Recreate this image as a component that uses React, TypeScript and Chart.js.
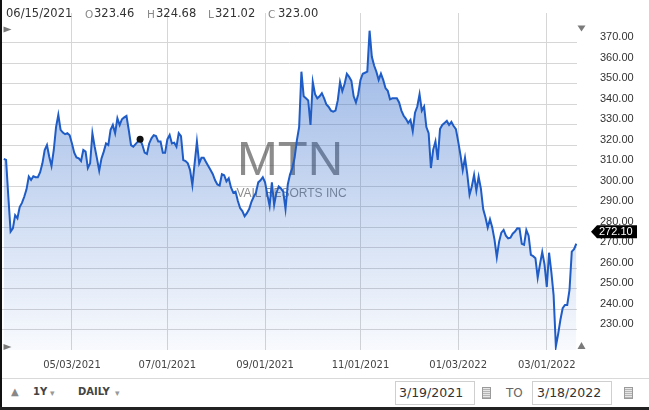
import React, { useEffect, useRef } from 'react';
import { Chart, registerables } from 'chart.js';

Chart.register(...registerables);

// Daily closes, trading days 3/19/2021 .. 3/18/2022 (index = trading day number)
const closes: number[] = [
  313.5, 313, 295, 278, 279.6, 286, 284.5, 290, 292, 295,
  298.6, 304.8, 303.2, 305, 304.5, 304.5, 307, 311.3, 317.8, 320.2,
  314.5, 310, 317.8, 329, 335, 327.6, 326.3, 325.5, 326, 325,
  321, 316.5, 314.2, 313.7, 312.4, 317.8, 317, 309, 311.3, 326,
  319.4, 313.7, 307.7, 313.7, 317, 321, 320.2, 327.6, 330, 326,
  333.3, 330, 332.8, 333.7, 334.4, 327.6, 320.2, 319.4, 320.7, 321.9,
  323.0, 320.2, 316.5, 315.9, 321, 323.5, 325, 324.6, 321.9, 321.9,
  316.5, 316.5, 323, 325.1, 321, 321.4, 319.4, 326, 324.6, 312.9,
  312.4, 311.3, 308, 300.7, 311.3, 321.9, 311.3, 314, 314, 312,
  310, 308, 306, 303, 301, 300.5, 306, 305.5, 302.5, 304,
  299.5, 297, 297.5, 293, 289.5, 288, 285.5, 287, 289, 292.5,
  295, 297, 302, 303, 304.5, 302, 296, 290.5, 302, 291,
  297, 300, 299, 297.5, 289, 301, 306, 309, 314, 322.5,
  329, 356, 344, 343, 342, 330, 351, 345, 343, 344,
  345.5, 343, 340, 338.8, 337, 336.5, 337, 342, 351, 346.5,
  350, 355, 353.5, 351.5, 344, 341, 345, 352, 355, 355.5,
  356, 376, 363.3, 359, 356, 352, 355, 352, 348, 346.7,
  342.5, 343, 343, 343, 341, 337, 334.5, 333, 331, 332.5,
  327, 336, 339, 345, 337, 339, 329, 326, 309, 318,
  322, 313, 328, 330, 331, 332, 330, 331.5, 329.5, 328,
  322, 315.4, 308, 314, 306, 296, 300, 305.6, 298, 304.8,
  299, 289, 285, 280, 284, 280, 274, 265.5, 273, 277.5,
  278.8, 276, 274.7, 275, 277, 278, 279.6, 279.5, 272, 271.5,
  278.8, 276, 266.6, 266, 265, 255.5, 262, 268, 262, 251,
  267.7, 258.4, 247, 222, 228, 235, 240.6, 242.2, 242.2, 249.5,
  268.2, 269.4, 272.1,
];

const xTickIndex: number[] = [30, 72, 115, 157, 200, 239];
const xTickLabels: string[] = ['05/03/2021', '07/01/2021', '09/01/2021', '11/01/2021', '01/03/2022', '03/01/2022'];
const yTicks: number[] = [230, 240, 250, 260, 270, 280, 290, 300, 310, 320, 330, 340, 350, 360, 370];

const markedIndex = 60;
const headerDate = '06/15/2021';
const ohlcKeys: string[] = ['O', 'H', 'L', 'C'];
const ohlcValues: string[] = ['323.46', '324.68', '321.02', '323.00'];
const ticker = 'MTN';
const companyName = 'VAIL RESORTS INC';
const rangeFrom = '3/19/2021';
const rangeTo = '3/18/2022';
const periodLabel = '1Y';
const intervalLabel = 'DAILY';

const headerKeyX = [85, 147, 208, 268];
const headerValX = [94, 156, 215, 278];

const FONT_V = '"DejaVu Sans", Verdana, sans-serif';
const FONT_A = '"Liberation Sans", Arial, sans-serif';

const decorPlugin = {
  id: 'decor',
  beforeDatasetsDraw(chart: any) {
    const ctx = chart.ctx;
    ctx.save();
    ctx.textAlign = 'center';
    ctx.textBaseline = 'alphabetic';
    ctx.fillStyle = 'rgba(70,70,70,0.62)';
    ctx.font = `49px ${FONT_A}`;
    ctx.fillText(ticker, 288, 175);
    ctx.fillStyle = 'rgba(60,60,60,0.6)';
    ctx.font = `12px ${FONT_A}`;
    ctx.fillText(companyName, 289.5, 197);
    ctx.restore();
  },
  afterDraw(chart: any) {
    const ctx = chart.ctx;
    const area = chart.chartArea;
    ctx.save();
    ctx.fillStyle = '#7a7a7a';
    const tri = (pts: number[][]) => {
      ctx.beginPath();
      ctx.moveTo(pts[0][0], pts[0][1]);
      ctx.lineTo(pts[1][0], pts[1][1]);
      ctx.lineTo(pts[2][0], pts[2][1]);
      ctx.closePath();
      ctx.fill();
    };
    // left scroll markers
    tri([[area.left + 1.5, 26.5], [area.left + 1.5, 32.5], [area.left + 9.5, 29.5]]);
    tri([[area.left + 1.5, area.bottom - 6], [area.left + 1.5, area.bottom], [area.left + 9.5, area.bottom - 3]]);
    // right markers
    const cx = area.right + 4.5;
    tri([[cx - 4, 25.5], [cx + 4, 25.5], [cx, 31.5]]);
    tri([[cx - 4, area.bottom - 1], [cx + 4, area.bottom - 1], [cx, area.bottom - 8]]);

    // last price tag
    const last = closes[closes.length - 1];
    const ys = chart.scales.y;
    const ty = ys.getPixelForValue(last) - 12;
    const bx = area.right + 20;
    const bw = 40;
    const bh = 13;
    ctx.fillStyle = '#000';
    ctx.beginPath();
    ctx.moveTo(area.right + 14, ty);
    ctx.lineTo(bx, ty - bh / 2);
    ctx.lineTo(bx + bw, ty - bh / 2);
    ctx.lineTo(bx + bw, ty + bh / 2);
    ctx.lineTo(bx, ty + bh / 2);
    ctx.closePath();
    ctx.fill();
    ctx.fillStyle = '#fff';
    ctx.font = `11px ${FONT_A}`;
    ctx.textAlign = 'left';
    ctx.textBaseline = 'middle';
    ctx.fillText(last.toFixed(2), bx + 2, ty + 0.5);
    ctx.restore();
  },
};

function ChartCanvas() {
  const ref = useRef<HTMLCanvasElement | null>(null);
  useEffect(() => {
    if (!ref.current) return;
    const chart = new Chart(ref.current, {
      type: 'line',
      data: {
        datasets: [
          {
            data: closes.map((c, i) => ({ x: i, y: c })),
            borderColor: '#1f5cc6',
            borderWidth: 2,
            fill: 'start',
            backgroundColor: (c: any) => {
              const ch = c.chart;
              const a = ch.chartArea;
              if (!a) return 'rgba(40,100,200,0.2)';
              const g = ch.ctx.createLinearGradient(0, a.top, 0, a.bottom);
              g.addColorStop(0, 'rgba(40,100,200,0.5)');
              g.addColorStop(1, 'rgba(40,100,200,0.03)');
              return g;
            },
            pointRadius: (c: any) => (c.dataIndex === markedIndex ? 3.5 : 0),
            pointBackgroundColor: '#111',
            pointBorderWidth: 0,
            pointHoverRadius: 0,
            tension: 0,
          } as any,
        ],
      },
      options: {
        animation: false,
        responsive: false,
        maintainAspectRatio: false,
        events: [],
        layout: { padding: { top: 13, left: 0, right: 0, bottom: 0 } },
        plugins: { legend: { display: false }, tooltip: { enabled: false } },
        scales: {
          x: {
            type: 'linear',
            min: -0.79,
            max: 252.3,
            border: { display: false },
            grid: { color: '#d6d6d6', lineWidth: 1, drawTicks: false },
            afterBuildTicks: (a: any) => {
              a.ticks = xTickIndex.map((v) => ({ value: v }));
            },
            afterFit: (a: any) => {
              a.height = 28;
              a.paddingLeft = 0;
              a.paddingRight = 0;
            },
            ticks: {
              autoSkip: false,
              maxRotation: 0,
              padding: 9,
              color: '#444',
              font: { family: FONT_V, size: 10 },
              callback: (v: any) => {
                const k = xTickIndex.indexOf(Number(v));
                return k >= 0 ? xTickLabels[k] : '';
              },
            },
          },
          y: {
            type: 'linear',
            position: 'right',
            min: 220.24,
            max: 384.63,
            border: { display: false },
            grid: { color: '#d6d6d6', lineWidth: 1, drawTicks: false },
            afterBuildTicks: (a: any) => {
              a.ticks = yTicks.map((v) => ({ value: v }));
            },
            afterFit: (a: any) => {
              a.width = 72;
              a.paddingTop = 0;
              a.paddingBottom = 0;
            },
            ticks: {
              autoSkip: false,
              padding: 23,
              color: '#333',
              font: { family: FONT_A, size: 11, lineHeight: 1.05 },
              callback: (v: any) => [Number(v).toFixed(2), ''],
            },
          },
        },
      } as any,
      plugins: [decorPlugin],
    });
    return () => chart.destroy();
  }, []);
  return (
    <canvas
      ref={ref}
      width={647}
      height={378}
      style={{ position: 'absolute', left: 2, top: 0, width: 647, height: 378 }}
    />
  );
}

const calIcon = (left: number) => (
  <div
    style={{
      position: 'absolute',
      left,
      top: 387,
      width: 7,
      height: 10,
      border: '1px solid #9a9a9a',
      background: 'repeating-linear-gradient(0deg, #b5b5b5 0px, #b5b5b5 1px, #e6e6e6 1px, #e6e6e6 2px)',
    }}
  />
);

export default function App() {
  const txt = (s: string, left: number, top: number, extra: any = {}) => (
    <span
      style={{
        position: 'absolute',
        left,
        top,
        whiteSpace: 'nowrap',
        fontFamily: FONT_V,
        lineHeight: '14px',
        ...extra,
      }}
    >
      {s}
    </span>
  );
  return (
    <div
      style={{
        position: 'fixed',
        left: 0,
        top: 0,
        width: 649,
        height: 410,
        background: '#fff',
        overflow: 'hidden',
        boxSizing: 'border-box',
      }}
    >
      <ChartCanvas />
      {/* header */}
      {txt(headerDate, 6, 6, { fontSize: 11.5, color: '#333' })}
      {ohlcKeys.map((k, i) => (
        <React.Fragment key={k}>
          {txt(k, headerKeyX[i], 6.5, { fontSize: 10.5, color: '#888', lineHeight: '14px' })}
          {txt(ohlcValues[i], headerValX[i], 6, { fontSize: 11.5, color: '#333' })}
        </React.Fragment>
      ))}
      {/* separator */}
      <div style={{ position: 'absolute', left: 2, top: 378, width: 647, height: 1, background: '#d9d9d9' }} />
      {/* toolbar */}
      {txt('\u25B2', 11, 385, { fontSize: 10, color: '#888' })}
      {txt(periodLabel, 33, 385, { fontSize: 10, color: '#444', fontWeight: 'bold' })}
      {txt('\u25BE', 50, 386, { fontSize: 9, color: '#999' })}
      {txt(intervalLabel, 78, 385, { fontSize: 10, color: '#444', fontWeight: 'bold' })}
      {txt('\u25BE', 115, 386, { fontSize: 9, color: '#999' })}
      <div
        style={{
          position: 'absolute',
          left: 395,
          top: 381,
          width: 80,
          height: 24,
          border: '1px solid #cfcfcf',
          boxSizing: 'border-box',
        }}
      />
      {txt(rangeFrom, 399, 385, { fontSize: 12.5, color: '#333', lineHeight: '16px' })}
      {calIcon(482)}
      {txt('TO', 506, 385, { fontSize: 12, color: '#666', lineHeight: '16px' })}
      <div
        style={{
          position: 'absolute',
          left: 532,
          top: 381,
          width: 80,
          height: 24,
          border: '1px solid #cfcfcf',
          boxSizing: 'border-box',
        }}
      />
      {txt(rangeTo, 537, 385, { fontSize: 12.5, color: '#333', lineHeight: '16px' })}
      {calIcon(624)}
      {/* frame */}
      <div style={{ position: 'absolute', left: 0, top: 0, width: 2, height: 410, background: '#111' }} />
      <div style={{ position: 'absolute', left: 0, top: 407, width: 649, height: 3, background: '#222' }} />
    </div>
  );
}
